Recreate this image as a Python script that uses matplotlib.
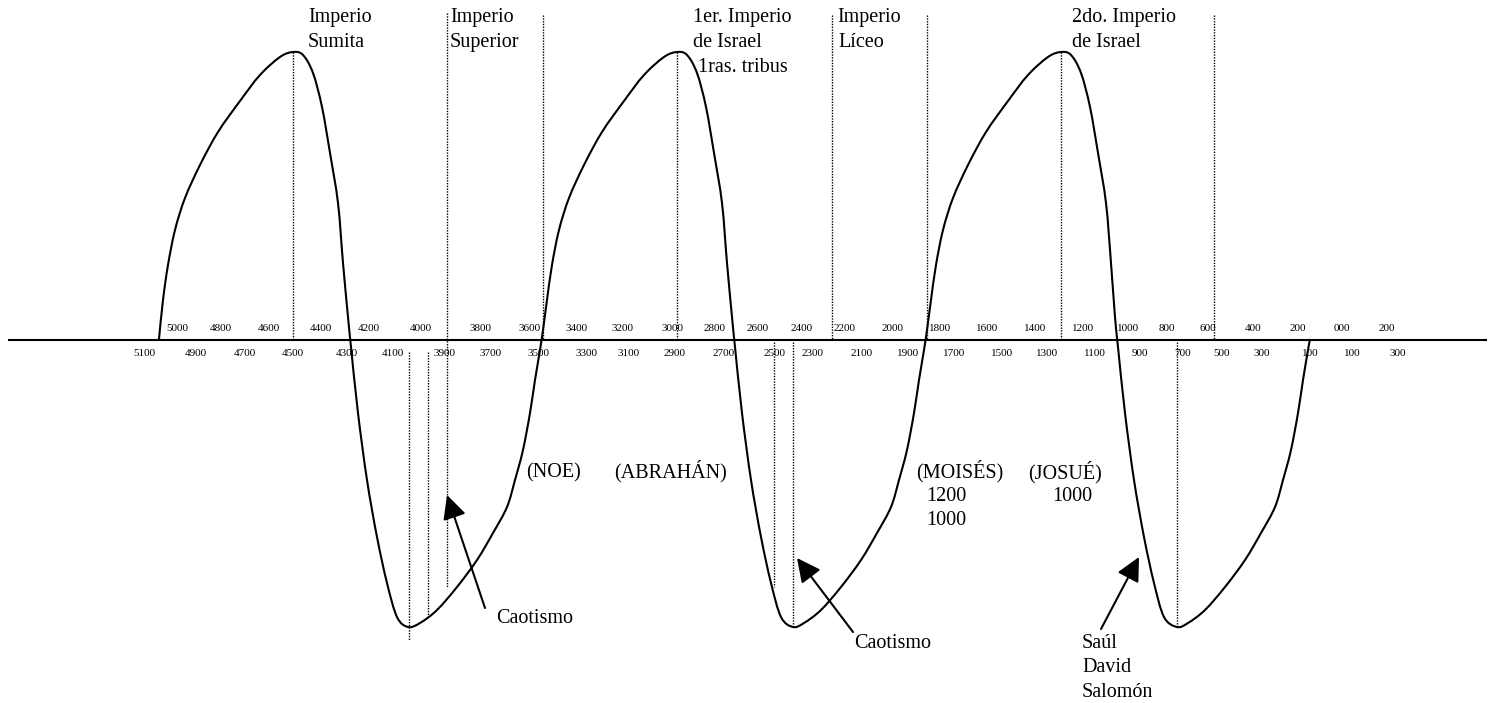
import matplotlib
matplotlib.use("Agg")
import matplotlib.pyplot as plt
from matplotlib.path import Path
from matplotlib.patches import PathPatch

# ---------------- data (diagram units: x to the right, y downward) ----------------
axis_y = 339.5
axis_x = [8, 1487]

top_tick_labels = ["5000", "4800", "4600", "4400", "4200", "4000", "3800", "3600", "3400",
                   "3200", "3000", "2800", "2600", "2400", "2200", "2000", "1800", "1600",
                   "1400", "1200", "1000", "800", "600", "400", "200", "000", "200"]
top_tick_x = [177, 221, 269, 321, 369, 421, 480, 530, 577, 623, 672, 715, 758, 802, 845,
              893, 940, 987, 1035, 1083, 1128, 1167, 1208, 1253, 1298, 1342, 1387]

bottom_tick_labels = ["5100", "4900", "4700", "4500", "4300", "4100", "3900", "3700", "3500",
                      "3300", "3100", "2900", "2700", "2500", "2300", "2100", "1900", "1700",
                      "1500", "1300", "1100", "900", "700", "500", "300", "100", "100", "300"]
bottom_tick_x = [144, 196, 245, 293, 347, 393, 445, 491, 539, 586, 629, 675, 724, 775, 813,
                 862, 908, 954, 1002, 1047, 1095, 1140, 1183, 1222, 1262, 1310, 1352, 1398]

curve_x = [159, 163, 168, 175, 185, 200, 218, 240, 260, 280, 293, 303, 313, 322, 330,
           338, 343, 348, 351, 358, 367, 377, 387, 397, 408, 420, 437, 457, 477, 493, 507,
           515, 523, 530, 535, 540, 543,
           547, 552, 559, 569, 584, 602, 624, 644, 664, 677, 687, 697, 706, 714, 722,
           727, 732, 735, 742, 751, 761, 771, 781, 793, 804, 821, 841, 861, 877, 891, 899,
           907, 914, 919, 924, 927,
           931, 936, 943, 953, 968, 986, 1008, 1028, 1048, 1061, 1071, 1081, 1090,
           1098, 1106, 1111, 1115, 1118, 1125, 1134, 1144, 1154, 1164, 1177, 1188, 1205,
           1225, 1245, 1261, 1275, 1283, 1291, 1298, 1303, 1308, 1310]
curve_y = [339, 300, 265, 230, 198, 165, 132, 101, 75, 57, 52, 55, 73, 107, 153,
           203, 263, 317, 347, 413, 480, 537, 583, 617, 627, 623, 610, 587, 560, 533, 507,
           480, 450, 413, 380, 350, 330,
           300, 265, 230, 198, 165, 132, 101, 75, 57, 52, 55, 73, 107, 153, 203,
           263, 317, 347, 413, 480, 537, 583, 617, 627, 623, 610, 587, 560, 533, 507, 480,
           450, 413, 380, 350, 330,
           300, 265, 230, 198, 165, 132, 101, 75, 57, 52, 55, 73, 107,
           153, 203, 263, 317, 347, 413, 480, 537, 583, 617, 627, 623, 610,
           587, 560, 533, 507, 480, 450, 413, 380, 350, 339]

# dotted vertical guides: x, y_start, y_end
guide_x     = [293, 677, 1061, 447, 543, 832, 927, 1214, 409, 428, 774, 793, 1177]
guide_y0    = [52, 52, 52, 13, 15, 15, 15, 15, 352, 352, 342, 342, 342]
guide_y1    = [339, 339, 339, 587, 339, 339, 339, 339, 640, 618, 587, 627, 627]

# labels: text, x (left), baseline y
label_text = ["Imperio", "Sumita", "Imperio", "Superior",
              "1er. Imperio", "de Israel", "1ras. tribus",
              "Imperio", "Líceo", "2do. Imperio", "de Israel",
              "(NOE)", "(ABRAHÁN)", "(MOISÉS)", "(JOSUÉ)",
              "Caotismo", "Caotismo", "Saúl", "David", "Salomón"]
label_x = [308, 308, 450, 450, 693, 693, 698, 837, 838, 1072, 1072,
           526, 614, 916, 1028, 496, 854, 1082, 1082, 1082]
label_y = [22, 47, 22, 47, 22, 47, 72, 22, 47, 22, 47,
           477, 477, 477, 478, 623, 648, 648, 672, 697]

# centered numbers under names
num_text = ["1200", "1000", "1000"]
num_x = [946, 946, 1072]
num_y = [501, 525, 501]

# arrows: tail -> tip
arrow_tail = [(485, 608), (853, 632), (1101, 629)]
arrow_tip = [(447, 495), (797, 558), (1139, 557)]

# ---------------- drawing ----------------
plt.rcParams['font.family'] = ['Liberation Serif', 'DejaVu Serif']
fig = plt.figure(figsize=(14.97, 7.03), dpi=100)
ax = fig.add_axes([0, 0, 1, 1])
ax.set_xlim(0, 1497)
ax.set_ylim(703, 0)
ax.axis('off')

ax.plot(axis_x, [axis_y, axis_y], color='black', lw=1.5, solid_capstyle='butt')

# smooth rendering of the traced curve (Catmull-Rom -> cubic Bezier path)
pts = list(zip(curve_x, curve_y))
verts = [pts[0]]
codes = [Path.MOVETO]
n = len(pts)
for i in range(n - 1):
    p0 = pts[i - 1] if i > 0 else pts[i]
    p1 = pts[i]
    p2 = pts[i + 1]
    p3 = pts[i + 2] if i + 2 < n else pts[i + 1]
    c1 = (p1[0] + (p2[0] - p0[0]) / 6.0, p1[1] + (p2[1] - p0[1]) / 6.0)
    c2 = (p2[0] - (p3[0] - p1[0]) / 6.0, p2[1] - (p3[1] - p1[1]) / 6.0)
    verts += [c1, c2, p2]
    codes += [Path.CURVE4, Path.CURVE4, Path.CURVE4]
ax.add_patch(PathPatch(Path(verts, codes), facecolor='none', edgecolor='black',
                       lw=1.5, joinstyle='round', capstyle='butt'))

for gx, y0, y1 in zip(guide_x, guide_y0, guide_y1):
    ax.plot([gx, gx], [y0, y1], color='black', lw=1.0, linestyle=(0, (1, 1)))

for t, x in zip(top_tick_labels, top_tick_x):
    ax.text(x, 331, t, ha='center', va='baseline', fontsize=8)
for t, x in zip(bottom_tick_labels, bottom_tick_x):
    ax.text(x, 356, t, ha='center', va='baseline', fontsize=8)

for t, x, y in zip(label_text, label_x, label_y):
    ax.text(x, y, t, ha='left', va='baseline', fontsize=14.5)
for t, x, y in zip(num_text, num_x, num_y):
    ax.text(x, y, t, ha='center', va='baseline', fontsize=14.5)

for tail, tip in zip(arrow_tail, arrow_tip):
    ax.annotate("", xy=tip, xytext=tail,
                arrowprops=dict(arrowstyle="-|>,head_length=1.45,head_width=0.72",
                                mutation_scale=10, color='black', lw=1.5,
                                shrinkA=0, shrinkB=0))

fig.savefig("out.png", dpi=100, facecolor='white')
